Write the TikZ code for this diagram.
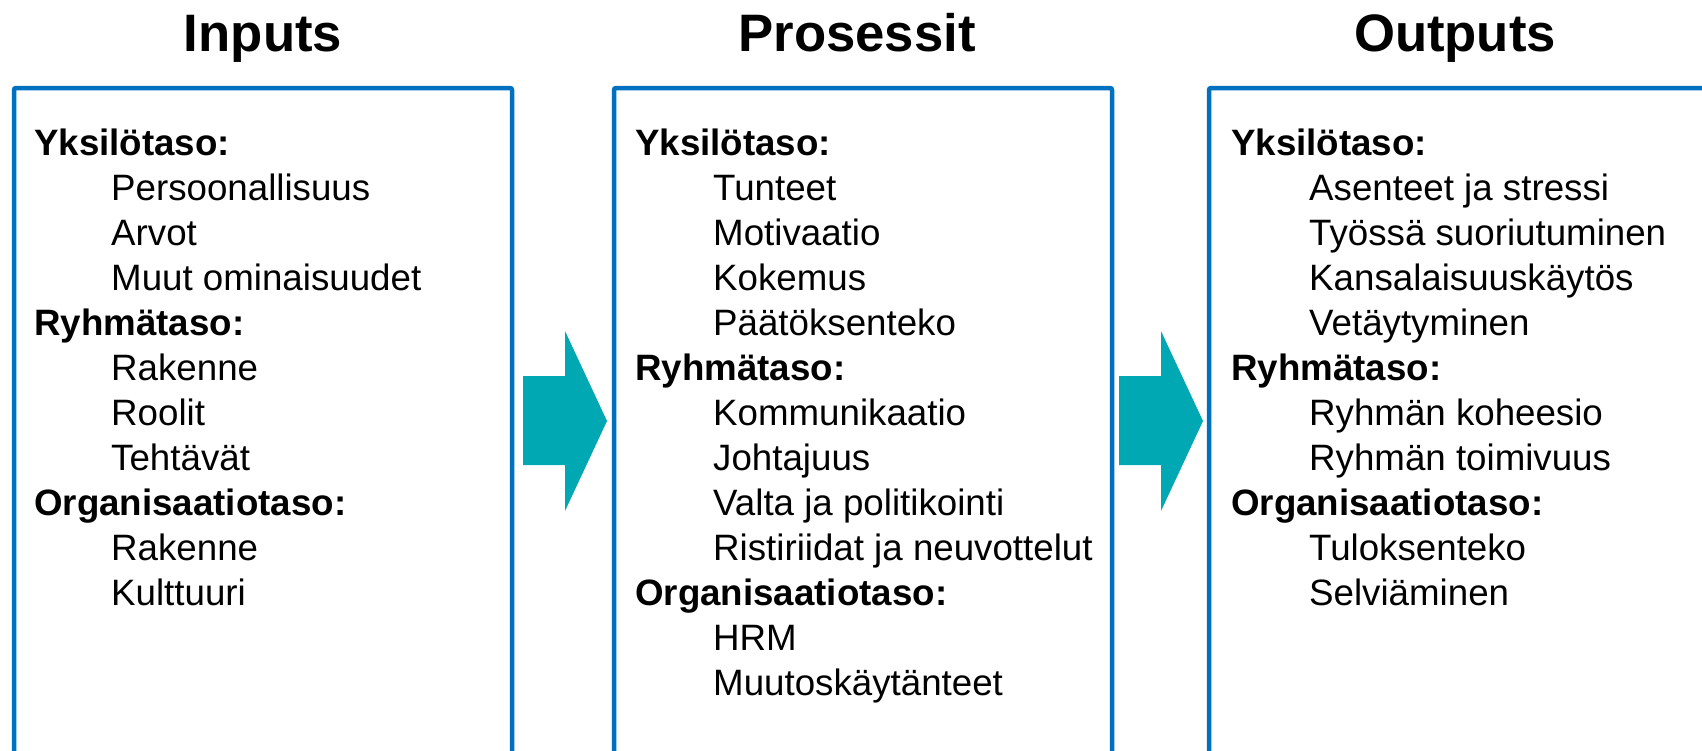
\documentclass[tikz,border=0pt]{standalone}
\usepackage{fontspec}
\setmainfont{Liberation Sans}
\definecolor{boxblue}{HTML}{0070C0}
\definecolor{arrowteal}{RGB}{0,168,180}
\begin{document}
\begin{tikzpicture}[x=1pt,y=-1pt,
  title/.style={font=\fontsize{52.7}{60}\selectfont\bfseries, anchor=base, inner sep=0pt},
  head/.style={font=\fontsize{36.7}{44}\selectfont\bfseries, anchor=base west, inner sep=0pt},
  item/.style={font=\fontsize{36.7}{44}\selectfont, anchor=base west, inner sep=0pt},
  frame/.style={draw=boxblue, line width=4.5pt, rounded corners=2pt},
  flow/.style={fill=arrowteal}]
\useasboundingbox (0,0) rectangle (1702,750);
\clip (0,0) rectangle (1702,750);
% frames
\draw[frame] (14,800) -- (14,88) -- (512,88) -- (512,800);
\draw[frame] (614,800) -- (614,88) -- (1112,88) -- (1112,800);
\draw[frame] (1209,800) -- (1209,88) -- (1800,88);
% titles
\node[title] (t1) at (263,51) {Inputs};
\node[title] (t2) at (857,51) {Prosessit};
\node[title] (t3) at (1455,51) {Outputs};
% arrows
\fill[flow] (523,376) -- (565,376) -- (565,331) -- (607,421) -- (565,511) -- (565,465) -- (523,465) -- cycle;
\fill[flow] (1119,376) -- (1161,376) -- (1161,331) -- (1203,421) -- (1161,511) -- (1161,465) -- (1119,465) -- cycle;
% box 1
\node[head] (a0) at (34,155) {Yksilötaso:};
\node[item] (a1) at (111,200) {Persoonallisuus};
\node[item] (a2) at (111,245) {Arvot};
\node[item] (a3) at (111,290) {Muut ominaisuudet};
\node[head] (a4) at (34,335) {Ryhmätaso:};
\node[item] (a5) at (111,380) {Rakenne};
\node[item] (a6) at (111,425) {Roolit};
\node[item] (a7) at (111,470) {Tehtävät};
\node[head] (a8) at (34,515) {Organisaatiotaso:};
\node[item] (a9) at (111,560) {Rakenne};
\node[item] (a10) at (111,605) {Kulttuuri};
% box 2
\node[head] (b0) at (635,155) {Yksilötaso:};
\node[item] (b1) at (713,200) {Tunteet};
\node[item] (b2) at (713,245) {Motivaatio};
\node[item] (b3) at (713,290) {Kokemus};
\node[item] (b4) at (713,335) {Päätöksenteko};
\node[head] (b5) at (635,380) {Ryhmätaso:};
\node[item] (b6) at (713,425) {Kommunikaatio};
\node[item] (b7) at (713,470) {Johtajuus};
\node[item] (b8) at (713,515) {Valta ja politikointi};
\node[item] (b9) at (713,560) {Ristiriidat ja neuvottelut};
\node[head] (b10) at (635,605) {Organisaatiotaso:};
\node[item] (b11) at (713,650) {HRM};
\node[item] (b12) at (713,695) {Muutoskäytänteet};
% box 3
\node[head] (c0) at (1231,155) {Yksilötaso:};
\node[item] (c1) at (1309,200) {Asenteet ja stressi};
\node[item] (c2) at (1309,245) {Työssä suoriutuminen};
\node[item] (c3) at (1309,290) {Kansalaisuuskäytös};
\node[item] (c4) at (1309,335) {Vetäytyminen};
\node[head] (c5) at (1231,380) {Ryhmätaso:};
\node[item] (c6) at (1309,425) {Ryhmän koheesio};
\node[item] (c7) at (1309,470) {Ryhmän toimivuus};
\node[head] (c8) at (1231,515) {Organisaatiotaso:};
\node[item] (c9) at (1309,560) {Tuloksenteko};
\node[item] (c10) at (1309,605) {Selviäminen};
\end{tikzpicture}
\end{document}
